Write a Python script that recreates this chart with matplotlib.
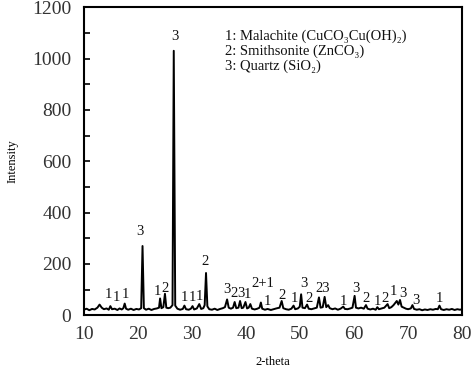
import matplotlib
matplotlib.use("Agg")
import matplotlib.pyplot as plt
from matplotlib.ticker import MultipleLocator

# XRD trace: (2-theta, intensity)
two_theta = [10.0, 10.5, 11.0, 11.5, 12.0, 12.5, 12.9, 13.3, 13.7, 14.2, 14.6, 14.9, 15.2, 15.7,
             16.2, 16.6, 17.0, 17.3, 17.55, 17.8, 18.2, 18.7, 19.2, 19.7, 20.2, 20.6, 20.85, 21.1,
             21.5, 22.0, 22.5, 23.0, 23.5, 23.9, 24.1, 24.35, 24.7, 25.0, 25.25, 25.6, 26.0, 26.4,
             26.63, 26.9, 27.3, 27.8, 28.3, 28.6, 28.9, 29.4, 29.8, 30.1, 30.4, 30.9, 31.35, 31.7,
             32.1, 32.35, 32.6, 32.85, 33.2, 33.7, 34.2, 34.7, 35.2, 35.7, 36.1, 36.5, 36.8, 37.2,
             37.6, 37.9, 38.2, 38.6, 38.9, 39.2, 39.5, 39.9, 40.2, 40.5, 40.8, 41.1, 41.6, 42.1,
             42.5, 42.75, 43.0, 43.5, 44.0, 44.6, 45.1, 45.6, 46.2, 46.6, 46.9, 47.4, 47.9, 48.4,
             48.8, 49.1, 49.6, 49.95, 50.2, 50.45, 50.9, 51.3, 51.6, 52.1, 52.6, 53.1, 53.5, 53.8,
             54.2, 54.55, 54.85, 55.2, 55.5, 56.0, 56.5, 57.0, 57.5, 58.0, 58.3, 58.8, 59.3, 59.7,
             60.1, 60.35, 60.8, 61.3, 61.8, 62.2, 62.5, 63.0, 63.5, 64.0, 64.3, 64.6, 65.1, 65.6,
             66.2, 66.5, 66.9, 67.3, 67.6, 67.9, 68.2, 68.5, 68.8, 69.2, 69.6, 70.0, 70.5, 70.8,
             71.1, 71.6, 72.1, 72.6, 73.1, 73.6, 74.1, 74.6, 75.1, 75.5, 75.8, 76.1, 76.6, 77.1,
             77.6, 78.1, 78.6, 79.1, 79.6, 80.0]
intensity = [22, 26, 20, 25, 23, 30, 42, 30, 24, 27, 22, 36, 24, 26,
             21, 27, 23, 28, 46, 26, 22, 26, 21, 25, 23, 28, 270, 28,
             22, 26, 21, 25, 27, 30, 66, 28, 32, 84, 30, 28, 30, 40,
             1030, 38, 26, 22, 25, 38, 24, 22, 26, 36, 23, 27, 44, 25,
             28, 40, 165, 35, 24, 22, 26, 21, 25, 28, 32, 62, 30, 26,
             30, 52, 28, 30, 56, 28, 30, 52, 27, 30, 44, 26, 23, 26,
             30, 50, 26, 22, 25, 21, 24, 27, 30, 56, 28, 24, 22, 26,
             38, 24, 27, 34, 82, 30, 28, 42, 26, 24, 27, 30, 70, 30,
             32, 72, 32, 40, 28, 24, 27, 22, 26, 34, 25, 24, 27, 30,
             76, 30, 27, 30, 26, 40, 26, 23, 26, 22, 32, 24, 27, 30,
             44, 28, 32, 40, 48, 56, 42, 60, 34, 30, 26, 24, 27, 40,
             25, 22, 24, 20, 23, 21, 24, 22, 25, 24, 38, 24, 21, 24,
             22, 25, 21, 24, 22, 24]

# phase labels over the peaks
peak_text = ["1", "1", "1", "3", "1", "2", "3", "1", "1", "1", "2",
             "3", "2", "3", "1", "2+1", "1", "2", "1", "3", "2", "23",
             "1", "3", "2", "1", "2", "1", "3", "3", "1"]
peak_x = [14.6, 16.1, 17.6, 20.4, 23.55, 25.0, 26.9, 28.6, 30.05, 31.35, 32.45,
          36.4, 37.85, 39.0, 40.2, 43.2, 43.9, 46.7, 48.9, 50.7, 51.6, 54.1,
          58.1, 60.3, 62.2, 64.3, 65.8, 67.3, 69.0, 71.45, 75.8]
peak_y = [81, 70, 81, 325, 93, 105, 1084, 70, 70, 72, 209,
          100, 85, 85, 80, 124, 54, 79, 66, 124, 66, 104,
          54, 104, 66, 54, 66, 93, 85, 59, 66]

legend_lines = ["1: Malachite (CuCO\u2083Cu(OH)\u2082)",
                "2: Smithsonite (ZnCO\u2083)",
                "3: Quartz (SiO\u2082)"]

serif = ["Liberation Serif", "DejaVu Serif"]
plt.rcParams["font.family"] = serif

fig = plt.figure(figsize=(4.74, 3.75), dpi=100)
ax = fig.add_axes([0.177, 0.159, 0.798, 0.822])

ax.plot(two_theta, intensity, color="black", lw=1.4)

for t, x, y in zip(peak_text, peak_x, peak_y):
    ax.text(x, y, t, ha="center", va="center", fontsize=10.5, color="#111111")

for i, line in enumerate(legend_lines):
    ax.text(36.2, 1085 - i * 58, line, ha="left", va="center", fontsize=10.5, color="#111111")

ax.set_xlim(10, 80)
ax.set_ylim(0, 1200)
ax.xaxis.set_major_locator(MultipleLocator(10))
ax.yaxis.set_major_locator(MultipleLocator(200))
ax.yaxis.set_minor_locator(MultipleLocator(100))
ax.tick_params(axis="x", length=0, pad=8, labelsize=14, labelcolor="#333333")
ax.tick_params(axis="y", which="both", direction="in", length=4, width=1.2, pad=9,
               labelsize=14, labelcolor="#333333")
for s in ax.spines.values():
    s.set_linewidth(1.5)

ax.set_xlabel("2-theta", fontsize=9, labelpad=9)
ax.set_ylabel("Intensity", fontsize=9, labelpad=10)

fig.savefig("out.png", dpi=100)
